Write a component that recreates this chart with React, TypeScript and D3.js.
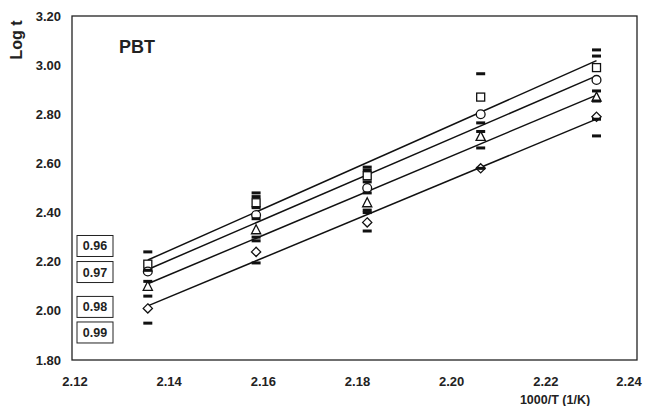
import React from "react";
import * as d3 from "d3";

const xValues = [2.1361, 2.1591, 2.1827, 2.2068, 2.2314];
const seriesNames = ["0.96", "0.97", "0.98", "0.99"];
const seriesShapes = ["square", "circle", "triangle", "diamond"];
const squareVals = [2.19, 2.44, 2.55, 2.87, 2.99];
const circleVals = [2.16, 2.39, 2.5, 2.8, 2.94];
const triangleVals = [2.1, 2.33, 2.44, 2.71, 2.87];
const diamondVals = [2.01, 2.24, 2.36, 2.58, 2.79];
const dashCol1 = [2.24, 2.165, 2.12, 2.06, 1.95];
const dashCol2 = [2.48, 2.465, 2.42, 2.375, 2.3, 2.285, 2.195];
const dashCol3 = [2.585, 2.573, 2.525, 2.48, 2.41, 2.4, 2.325];
const dashCol4 = [2.965, 2.765, 2.73, 2.663, 2.58];
const dashCol5 = [3.062, 3.037, 2.895, 2.854, 2.78, 2.712];
const xTicks = [2.12, 2.14, 2.16, 2.18, 2.2, 2.22, 2.24];
const yTicks = [1.8, 2.0, 2.2, 2.4, 2.6, 2.8, 3.0, 3.2];
const legendAnchors = [2.264, 2.158, 2.016, 1.912];

const W = 651, H = 406;
const M = { left: 72, right: 637, top: 16, bottom: 360 };
const FONT = "'Liberation Sans', Arial, Helvetica, sans-serif";

function fit(xs: number[], ys: number[]) {
  const mx = d3.mean(xs)!, my = d3.mean(ys)!;
  let sxy = 0, sxx = 0;
  xs.forEach((x, i) => { sxy += (x - mx) * (ys[i] - my); sxx += (x - mx) ** 2; });
  const b = sxy / sxx;
  return (x: number) => my + b * (x - mx);
}

export default function App() {
  const x = d3.scaleLinear().domain([2.12, 2.24]).range([M.left, M.right]);
  const y = d3.scaleLinear().domain([1.8, 3.2]).range([M.bottom, M.top]);
  const allSeries = [squareVals, circleVals, triangleVals, diamondVals];
  const dashCols = [dashCol1, dashCol2, dashCol3, dashCol4, dashCol5];
  const line = d3.line<[number, number]>().x(d => x(d[0])).y(d => y(d[1]));
  const x0 = xValues[0], x1 = xValues[xValues.length - 1];

  const marker = (shape: string, cx: number, cy: number, key: string) => {
    const common = { fill: "white", stroke: "#111", strokeWidth: 1.3 };
    if (shape === "square") return <rect key={key} x={cx - 4} y={cy - 4} width={8} height={8} {...common} />;
    if (shape === "circle") return <circle key={key} cx={cx} cy={cy} r={4.4} {...common} />;
    if (shape === "triangle") return <path key={key} d={`M${cx},${cy - 5}L${cx + 4.6},${cy + 4}L${cx - 4.6},${cy + 4}Z`} {...common} />;
    return <path key={key} d={`M${cx},${cy - 4.6}L${cx + 4.6},${cy}L${cx},${cy + 4.6}L${cx - 4.6},${cy}Z`} {...common} />;
  };

  return (
    <svg width={W} height={H} style={{ position: "absolute", left: 0, top: 0, background: "white" }} fontFamily={FONT}>
      <rect x={0} y={0} width={W} height={H} fill="white" />
      {allSeries.map((vals, i) => {
        const f = fit(xValues, vals);
        return <path key={"l" + i} d={line([[x0, f(x0)], [x1, f(x1)]])!} stroke="#111" strokeWidth={1.5} fill="none" />;
      })}
      {allSeries.map((vals, i) => vals.map((v, j) => marker(seriesShapes[i], x(xValues[j]), y(v), `m${i}-${j}`)))}
      {dashCols.map((col, ci) => col.map((v, j) => (
        <rect key={`d${ci}-${j}`} x={x(xValues[ci]) - 4.5} y={y(v) - 1.5} width={9} height={3} fill="#111" />
      )))}
      <rect x={M.left} y={M.top} width={M.right - M.left} height={M.bottom - M.top} fill="none" stroke="#222" strokeWidth={1.3} />
      {yTicks.map(t => (
        <text key={"y" + t} x={61} y={y(t)} dy="0.35em" textAnchor="end" fontSize={13} fontWeight="bold" fill="#222">{t.toFixed(2)}</text>
      ))}
      {xTicks.map(t => (
        <text key={"x" + t} x={Math.min(x(t) + 3, W - 22)} y={386} textAnchor="middle" fontSize={13} fontWeight="bold" fill="#222">{t.toFixed(2)}</text>
      ))}
      <text x={555} y={404} textAnchor="middle" fontSize={12.5} fontWeight="bold" fill="#222">1000/T (1/K)</text>
      <text transform="translate(22,40) rotate(-90)" textAnchor="middle" fontSize={16} fontWeight="bold" fill="#222">Log t</text>
      <text x={137} y={53} textAnchor="middle" fontSize={18} fontWeight="bold" fill="#222">PBT</text>
      {seriesNames.map((n, i) => (
        <g key={"lg" + i}>
          <rect x={77} y={y(legendAnchors[i]) - 10.5} width={36} height={21} fill="white" stroke="#222" strokeWidth={1} />
          <text x={95} y={y(legendAnchors[i])} dy="0.36em" textAnchor="middle" fontSize={12.5} fontWeight="bold" fill="#222">{n}</text>
        </g>
      ))}
    </svg>
  );
}
